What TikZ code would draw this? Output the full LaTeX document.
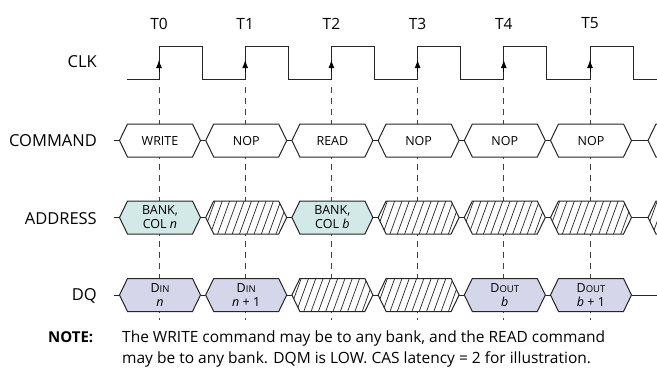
\documentclass[tikz,border=0pt]{standalone}
\usepackage{fontspec}
\usetikzlibrary{arrows.meta}
\setmainfont{Open Sans}
\setsansfont{Open Sans}
\begin{document}
\begin{tikzpicture}[x=1pt,y=-1pt,
  sig/.style={draw=black!85, line width=1pt},
  bx/.style={draw=black!85, line width=1pt, line join=miter},
  dsh/.style={draw=black!75, line width=0.9pt, dash pattern=on 6pt off 5pt},
  lbl/.style={font=\fontsize{16.5}{18}\selectfont, anchor=east, inner sep=0pt},
  tlbl/.style={font=\fontsize{15.5}{17}\selectfont, inner sep=0pt},
  btxt/.style={font=\fontsize{12.5}{14}\selectfont, align=center, inner sep=0pt},
  sc/.style={},
  clkarrow/.style={-{Latex[length=8pt,width=6pt]}, line width=1pt}]
\definecolor{addrfill}{HTML}{D3E9E8}
\definecolor{dqfill}{HTML}{D5D6EA}
\useasboundingbox (0,0) rectangle (657,386);
\fill[white] (0,0) rectangle (657,386);
% macros
\def\hw{40.5}\def\tp{8}\def\hh{16.5}
\newcommand\smc[1]{{\fontsize{9.5}{10}\selectfont #1}}
\newcommand\tdhex[3]{% center x, center y, fill
  \filldraw[bx, fill=#3] (#1-\hw,#2) -- (#1-\hw+\tp,#2-\hh) -- (#1+\hw-\tp,#2-\hh) -- (#1+\hw,#2) -- (#1+\hw-\tp,#2+\hh) -- (#1-\hw+\tp,#2+\hh) -- cycle;}
\newcommand\tdhatch[2]{% center x, center y
  \fill[white] (#1-\hw,#2) -- (#1-\hw+\tp,#2-\hh) -- (#1+\hw-\tp,#2-\hh) -- (#1+\hw,#2) -- (#1+\hw-\tp,#2+\hh) -- (#1-\hw+\tp,#2+\hh) -- cycle;
  \begin{scope}
  \clip (#1-\hw,#2) -- (#1-\hw+\tp,#2-\hh) -- (#1+\hw-\tp,#2-\hh) -- (#1+\hw,#2) -- (#1+\hw-\tp,#2+\hh) -- (#1-\hw+\tp,#2+\hh) -- cycle;
  \foreach \k in {0,...,13} {\draw[black!85, line width=0.7pt] (#1-\hw-10+7.3*\k,#2+\hh) -- ++(12,-2*\hh);}
  \end{scope}
  \draw[bx] (#1-\hw,#2) -- (#1-\hw+\tp,#2-\hh) -- (#1+\hw-\tp,#2-\hh) -- (#1+\hw,#2) -- (#1+\hw-\tp,#2+\hh) -- (#1-\hw+\tp,#2+\hh) -- cycle;}
% row y centres
\def\yc{140.5}\def\ya{217.5}\def\yd{295}
% labels
\node[lbl] (lclk) at (97,62) {CLK};
\node[lbl] (lcmd) at (97,141) {COMMAND};
\node[lbl] (ladr) at (97,218.5) {ADDRESS};
\node[lbl] (ldq) at (97,296) {DQ};
% edge positions
\foreach \i/\lab in {0/T0,1/T1,2/T2,3/T3,4/T4,5/T5} {
  \pgfmathsetmacro\ex{159+86.2*\i}
  \node[tlbl] (t\i) at (\ex,23.5) {\lab};
  \coordinate (dtop\i) at (\ex,87);
  \coordinate (dbot\i) at (\ex,320);
  \draw[dsh] (dtop\i) -- (dbot\i);
}
% clock
\coordinate (c0) at (127,79);
\draw[sig] (c0)
  \foreach \i in {0,...,5} { -- (159+86.2*\i,79) -- (159+86.2*\i,46) -- (202.1+86.2*\i,46) -- (202.1+86.2*\i,79) } -- (657,79);
\foreach \i in {0,...,5} {
  \coordinate (ca\i) at (159+86.2*\i,72);
  \coordinate (cb\i) at (159+86.2*\i,60);
  \draw[clkarrow] (ca\i) -- (cb\i);
}
% lead-in lines
\foreach \r/\y in {c/\yc,a/\ya,d/\yd} {
  \coordinate (lead\r) at (114,\y);
  \coordinate (first\r) at (119.5,\y);
  \draw[sig] (lead\r) -- (first\r);
  \foreach \i in {0,...,4} {
    \coordinate (r\r\i) at (160+86.2*\i+\hw,\y);
    \coordinate (l\r\i) at (160+86.2*\i+86.2-\hw,\y);
    \draw[sig] (r\r\i) -- (l\r\i);
  }
  \coordinate (r\r5) at (591+\hw,\y);
}
\coordinate (lc6) at (648,\yc);
\coordinate (la6) at (648,\ya);
\coordinate (ld6) at (657,\yd);
\draw[sig] (rc5) -- (lc6);
\draw[sig] (ra5) -- (la6);
\draw[sig] (rd5) -- (ld6);
% command row
\foreach \i/\t in {0/WRITE,1/NOP,2/READ,3/NOP,4/NOP,5/NOP} {
  \pgfmathsetmacro\bx{160+86.2*\i}
  \tdhex{\bx}{\yc}{white}
  \node[btxt] (cmd\i) at (\bx,\yc+0.5) {\t};
}
\begin{scope}
\clip (0,0) rectangle (657,386);
\tdhex{688.5}{\yc}{white}
\tdhatch{688.5}{\ya}
\end{scope}
% address row
\tdhex{160}{\ya}{addrfill}
\node[btxt] (adr0) at (160,\ya) {BANK,\\COL \textit{n}};
\tdhatch{246.2}{\ya}
\tdhex{332.4}{\ya}{addrfill}
\node[btxt] (adr2) at (332.4,\ya) {BANK,\\COL \textit{b}};
\tdhatch{418.6}{\ya}
\tdhatch{504.8}{\ya}
\tdhatch{591}{\ya}
% dq row
\tdhex{160}{\yd}{dqfill}
\node[btxt] (dq0) at (160,\yd) {D\smc{IN}\\\textit{n}};
\tdhex{246.2}{\yd}{dqfill}
\node[btxt] (dq1) at (246.2,\yd) {D\smc{IN}\\\textit{n} + 1};
\tdhatch{332.4}{\yd}
\tdhatch{418.6}{\yd}
\tdhex{504.8}{\yd}{dqfill}
\node[btxt] (dq4) at (504.8,\yd) {D\smc{OUT}\\\textit{b}};
\tdhex{591}{\yd}{dqfill}
\node[btxt] (dq5) at (591,\yd) {D\smc{OUT}\\\textit{b} + 1};
% note
\node[font=\bfseries\fontsize{15}{17}\selectfont, anchor=base west, inner sep=0pt] (note) at (48,342) {NOTE:};
\node[font=\fontsize{15.5}{17}\selectfont, anchor=base west, inner sep=0pt] (notel1) at (122,342) {The WRITE command may be to any bank, and the READ command};
\node[font=\fontsize{15.5}{17}\selectfont, anchor=base west, inner sep=0pt] (notel2) at (122,363) {may be to any bank. DQM is LOW. CAS latency = 2 for illustration.};
\end{tikzpicture}
\end{document}
